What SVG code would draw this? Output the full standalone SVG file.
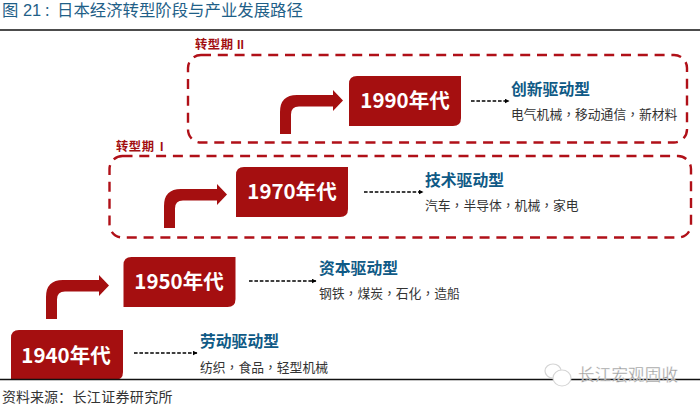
<svg xmlns="http://www.w3.org/2000/svg" width="700" height="406" viewBox="0 0 700 406">
<style>
text{font-family:"Noto Sans CJK SC","Liberation Sans",sans-serif}
.title{font-family:"Liberation Sans","Noto Sans CJK SC",sans-serif;font-size:16.4px;fill:#1f5f88}
.yr{font-size:20.5px;font-weight:700;fill:#fff;text-anchor:middle}
.drv{font-size:15.8px;font-weight:700;fill:#0f5a86}
.sub{font-size:12.8px;fill:#333}
.ph{font-size:12.3px;font-weight:700;fill:#a20f12}
.lat{font-family:"Liberation Sans",sans-serif}
.c{font-family:"Noto Sans CJK TC",sans-serif}
.colon{font-family:"Noto Sans CJK TC",sans-serif;font-size:13px}
.nd{fill:#a50f10}
.bend{fill:#a50f10}
.box{fill:none;stroke:#b01018;stroke-width:2.4;stroke-dasharray:10 6.8}
.dash{fill:none;stroke:#000;stroke-width:1.4;stroke-dasharray:3.6 1.8;marker-end:url(#ah)}
.rule{stroke:#111;stroke-width:1.6}
</style>
<defs>
<marker id="ah" markerWidth="5" markerHeight="5" refX="4" refY="2.5" orient="auto" markerUnits="userSpaceOnUse"><path d="M0 0.3L4.5 2.5L0 4.7Z" fill="#000"/></marker>
<path id="bendArrow" d="M0 0V-22Q0 -39 17 -39H53V-44L63 -33.5L53 -23V-27.500H19Q11 -27.500 11 -19.500V0Z"/>
<path id="nodeShape" d="M8 0H112V42Q112 50 104 50H0V8Q0 0 8 0Z"/>
</defs>
<rect width="700" height="406" fill="#fff"/>
<g id="header">
<text class="title" x="2" y="16">图 21<tspan class="colon" dx="-0.500">：</tspan></text>
<text class="title" x="57" y="16">日本经济转型阶段与产业发展路径</text>
<line class="rule" x1="0" y1="30" x2="700" y2="30"/>
</g>
<g id="connectors">
<use href="#bendArrow" class="bend" x="280" y="134"/>
<use href="#bendArrow" class="bend" x="164" y="228"/>
<use href="#bendArrow" class="bend" x="46" y="319"/>
<path class="dash" d="M471 101H509"/>
<path class="dash" d="M364 192H423"/>
<path class="dash" d="M249 281H316"/>
<path class="dash" d="M134 353H197"/>
</g>
<g id="phase2">
<rect class="box" x="188" y="55" width="499" height="87.5" rx="13"/>
<text class="ph" x="195" y="49" textLength="38">转型期</text>
<text class="ph lat" x="237" y="49">II</text>
</g>
<g id="phase1">
<rect class="box" x="109.500" y="156" width="581.500" height="81.500" rx="13"/>
<text class="ph" x="116" y="151" textLength="38">转型期</text>
<text class="ph lat" x="160" y="151">I</text>
</g>
<g id="node1990">
<use href="#nodeShape" class="nd" x="349" y="76"/>
<text class="yr" x="405" y="108">1990年代</text>
<text class="drv" x="511" y="95">创新驱动型</text>
<text class="sub" x="511" y="119">电气机械<tspan class="c">，</tspan>移动通信<tspan class="c">，</tspan>新材料</text>
</g>
<g id="node1970">
<use href="#nodeShape" class="nd" x="236" y="167"/>
<text class="yr" x="292" y="199">1970年代</text>
<text class="drv" x="425" y="186">技术驱动型</text>
<text class="sub" x="425" y="210">汽车<tspan class="c">，</tspan>半导体<tspan class="c">，</tspan>机械<tspan class="c">，</tspan>家电</text>
</g>
<g id="node1950">
<use href="#nodeShape" class="nd" x="123.500" y="257"/>
<text class="yr" x="179" y="289">1950年代</text>
<text class="drv" x="319" y="274">资本驱动型</text>
<text class="sub" x="319" y="298">钢铁<tspan class="c">，</tspan>煤炭<tspan class="c">，</tspan>石化<tspan class="c">，</tspan>造船</text>
</g>
<g id="node1940">
<use href="#nodeShape" class="nd" x="11" y="330"/>
<text class="yr" x="66" y="363">1940年代</text>
<text class="drv" x="200" y="347">劳动驱动型</text>
<text class="sub" x="200" y="372">纺织<tspan class="c">，</tspan>食品<tspan class="c">，</tspan>轻型机械</text>
</g>
<g id="footer">
<line class="rule" x1="0" y1="379.500" x2="700" y2="379.500"/>
<text x="2" y="402" font-size="14" fill="#333">资料来源：</text>
<text x="72.500" y="402" font-size="14" fill="#333" textLength="100">长江证券研究所</text>
</g>
<g id="watermark">
<ellipse cx="553" cy="371" rx="8" ry="7" fill="#fff" stroke="#d5d5d5" stroke-width="1.2"/>
<ellipse cx="562" cy="378" rx="9" ry="8" fill="#fff" stroke="#d5d5d5" stroke-width="1.2"/>
<text x="578" y="381" font-size="16.500" fill="#9a9a9a" stroke="#fff" stroke-width="0.300" textLength="100">长江宏观固收</text>
</g>
</svg>
